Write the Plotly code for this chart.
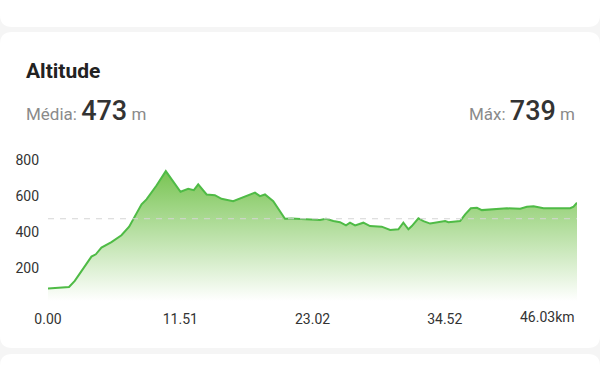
import plotly.graph_objects as go

# ---- data ----
distance_km = [0.00, 1.83, 2.33, 2.91, 3.78, 4.16, 4.65, 5.52, 6.39, 7.06, 7.70, 8.14, 8.57, 9.44,
               10.25, 10.89, 11.53, 12.20, 12.69, 13.07, 13.80, 14.52, 15.10, 16.11, 16.85, 18.01,
               18.44, 18.88, 19.60, 20.18, 20.62, 21.20, 22.51, 23.67, 24.19, 24.83, 25.41, 25.93,
               26.28, 26.72, 27.44, 28.02, 29.04, 29.77, 30.49, 30.92, 31.36, 31.66, 32.23, 32.67,
               33.25, 34.27, 34.56, 34.84, 35.86, 36.30, 36.79, 37.32, 37.75, 39.93, 41.09, 41.67,
               42.25, 43.12, 45.44, 45.73, 46.03]
altitude_m = [84, 93, 127, 182, 262, 275, 312, 343, 381, 429, 507, 553, 581, 658,
              738, 682, 623, 640, 632, 664, 608, 604, 584, 571, 590, 618,
              599, 608, 571, 516, 473, 475, 469, 466, 473, 460, 454, 436,
              451, 436, 451, 432, 429, 410, 414, 451, 414, 432, 475, 460,
              446, 454, 460, 454, 460, 497, 531, 534, 521, 531, 529, 540,
              543, 532, 532, 540, 562]
x_tick_vals = [0.00, 11.51, 23.02, 34.52]
x_tick_text = ["0.00", "11.51", "23.02", "34.52"]
x_end_label = "46.03km"
y_tick_vals = [200, 400, 600, 800]
title_text = "Altitude"
avg_label, avg_value = "Média:", 473
max_label, max_value = "Máx:", 739
unit = "m"

# ---- layout geometry (pixels) ----
W, H = 600, 383
L, R, T, B = 48, 23, 160, 82
PW, PH = W - L - R, H - T - B


def px(x):
    return (x - L) / PW


def py(y):
    return (H - B - y) / PH


def rounded_rect(x0, y0, x1, y1, r):
    pts = [
        f"M {px(x0 + r)},{py(y0)}",
        f"L {px(x1 - r)},{py(y0)}",
        f"Q {px(x1)},{py(y0)} {px(x1)},{py(y0 + r)}",
        f"L {px(x1)},{py(y1 - r)}",
        f"Q {px(x1)},{py(y1)} {px(x1 - r)},{py(y1)}",
        f"L {px(x0 + r)},{py(y1)}",
        f"Q {px(x0)},{py(y1)} {px(x0)},{py(y1 - r)}",
        f"L {px(x0)},{py(y0 + r)}",
        f"Q {px(x0)},{py(y0)} {px(x0 + r)},{py(y0)}",
        "Z",
    ]
    return " ".join(pts)


FONT = "Roboto"

fig = go.Figure()
fig.add_trace(go.Scatter(
    x=distance_km, y=altitude_m,
    mode="lines",
    line=dict(color="#4fbb46", width=2),
    fill="tozeroy",
    fillgradient=dict(
        type="vertical",
        colorscale=[[0, "rgba(255,255,255,1)"], [1, "rgb(120,196,82)"]],
        start=15, stop=740,
    ),
    hoverinfo="skip",
    showlegend=False,
))

shapes = []
for (y0, y1) in [(-30, 27), (32, 348), (354, 430)]:
    shapes.append(dict(type="path", path=rounded_rect(0, y0, 600, y1, 12),
                       xref="paper", yref="paper", fillcolor="white",
                       line=dict(width=0), layer="below"))
shapes.append(dict(type="line", xref="x", yref="y", x0=0, x1=distance_km[-1],
                   y0=avg_value, y1=avg_value,
                   line=dict(color="#d6d6d6", width=1, dash="6px,6px"), layer="above"))

num_style = "font-size:27px;color:#333333;font-weight:500"
annotations = [
    dict(text=f"<b>{title_text}</b>", x=px(24), y=py(71), xref="paper", yref="paper",
         xanchor="left", yanchor="middle", showarrow=False,
         font=dict(family=FONT, size=21, color="#222222")),
    dict(text=f"{avg_label}&nbsp;<span style='{num_style}'>{avg_value}</span>&nbsp;{unit}",
         x=px(24), y=py(111), xref="paper", yref="paper",
         xanchor="left", yanchor="middle", showarrow=False,
         font=dict(family=FONT, size=17, color="#8a8a8a")),
    dict(text=f"{max_label}&nbsp;<span style='{num_style}'>{max_value}</span>&nbsp;{unit}",
         x=px(577), y=py(111), xref="paper", yref="paper",
         xanchor="right", yanchor="middle", showarrow=False,
         font=dict(family=FONT, size=17, color="#8a8a8a")),
    dict(text=x_end_label, x=distance_km[-1], y=py(317), xref="x", yref="paper",
         xanchor="right", yanchor="middle", showarrow=False,
         font=dict(family=FONT, size=14, color="#333333")),
]

fig.update_layout(
    width=W, height=H,
    margin=dict(l=L, r=R, t=T, b=B, pad=0),
    paper_bgcolor="#f5f5f5",
    plot_bgcolor="rgba(0,0,0,0)",
    shapes=shapes,
    annotations=annotations,
    font=dict(family=FONT, size=14, color="#333333"),
    xaxis=dict(range=[0, distance_km[-1]], tickvals=x_tick_vals, ticktext=x_tick_text,
               showgrid=False, zeroline=False, showline=False, ticks="",
               ticklabelstandoff=8, tickfont=dict(family=FONT, size=14, color="#333333"),
               fixedrange=True),
    yaxis=dict(range=[15, 800], tickvals=y_tick_vals, showgrid=False, zeroline=False,
               showline=False, ticks="", ticklabelstandoff=8,
               tickfont=dict(family=FONT, size=14, color="#333333"), fixedrange=True),
)

fig.write_html("out.html", config={"displayModeBar": False})
